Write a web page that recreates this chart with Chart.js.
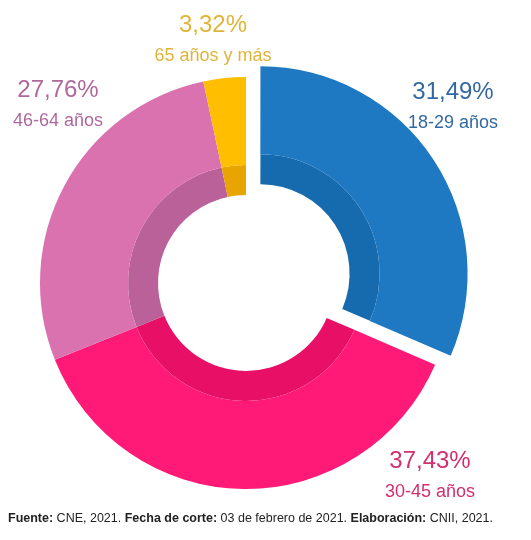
<!DOCTYPE html>
<html>
<head>
<meta charset="utf-8">
<script src="https://cdn.jsdelivr.net/npm/chart.js@4/dist/chart.umd.min.js"></script>
<style>
  body { margin: 0; background: #fff; }
  #wrap { position: relative; width: 531px; height: 540px; }
  #footer {
    position: absolute; left: 8px; top: 511px;
    font-family: "Liberation Sans", Arial, sans-serif; font-size: 12.5px; color: #222;
    white-space: nowrap;
  }
</style>
</head>
<body>
<div id="wrap">
  <canvas id="myChart" width="531" height="540"></canvas>
  <div id="footer"><b>Fuente:</b> CNE, 2021. <b>Fecha de corte:</b> 03 de febrero de 2021. <b>Elaboración:</b> CNII, 2021.</div>
</div>
<script>
const categories = ["18-29 años", "30-45 años", "46-64 años", "65 años y más"];
const shares = [31.49, 37.43, 27.76, 3.32];
const shareLabels = ["31,49%", "37,43%", "27,76%", "3,32%"];

const outerColors = ["#1f78c2", "#ff1a77", "#da72b0", "#ffbf00"];
const innerColors = ["#166aae", "#e80f66", "#ba619a", "#e8a400"];
const textColors = ["#33699f", "#d22f6f", "#b0689c", "#e0b43a"];
// chart.js draws an arc shifted by offset/4 px
const explode = [68, 0, 0, 0];

// label placement relative to the doughnut centre
const labelPos = [
  { dx: 207, dy: -191 },
  { dx: 184, dy: 178 },
  { dx: -188, dy: -193 },
  { dx: -33, dy: -258 },
];

const labelPlugin = {
  id: "outsideLabels",
  afterDatasetsDraw(chart) {
    const c = chart.ctx;
    const arc = chart.getDatasetMeta(0).data[2];
    const cx = arc.x, cy = arc.y;
    c.save();
    c.textAlign = "center";
    c.textBaseline = "middle";
    categories.forEach((cat, i) => {
      const x = cx + labelPos[i].dx;
      const y = cy + labelPos[i].dy;
      c.fillStyle = textColors[i];
      c.font = "24px 'Liberation Sans', Arial, sans-serif";
      c.fillText(shareLabels[i], x, y);
      c.font = "18px 'Liberation Sans', Arial, sans-serif";
      c.fillText(cat, x, y + 31);
    });
    c.restore();
  },
};

let ctx = document.getElementById("myChart").getContext("2d");

let myChart = new Chart(ctx, {
  type: "doughnut",
  data: {
    labels: categories,
    datasets: [
      {
        data: shares,
        backgroundColor: outerColors,
        borderWidth: 0,
        offset: explode,
        weight: 88,
      },
      {
        data: shares,
        backgroundColor: innerColors,
        borderWidth: 0,
        offset: explode,
        weight: 30,
      },
    ],
  },
  options: {
    responsive: false,
    animation: false,
    events: [],
    radius: 206,
    cutout: "42.7%",
    layout: { padding: { left: 0, right: 39, top: 26, bottom: 0 } },
    plugins: {
      legend: { display: false },
      tooltip: { enabled: false },
    },
  },
  plugins: [labelPlugin],
});
</script>
</body>
</html>
